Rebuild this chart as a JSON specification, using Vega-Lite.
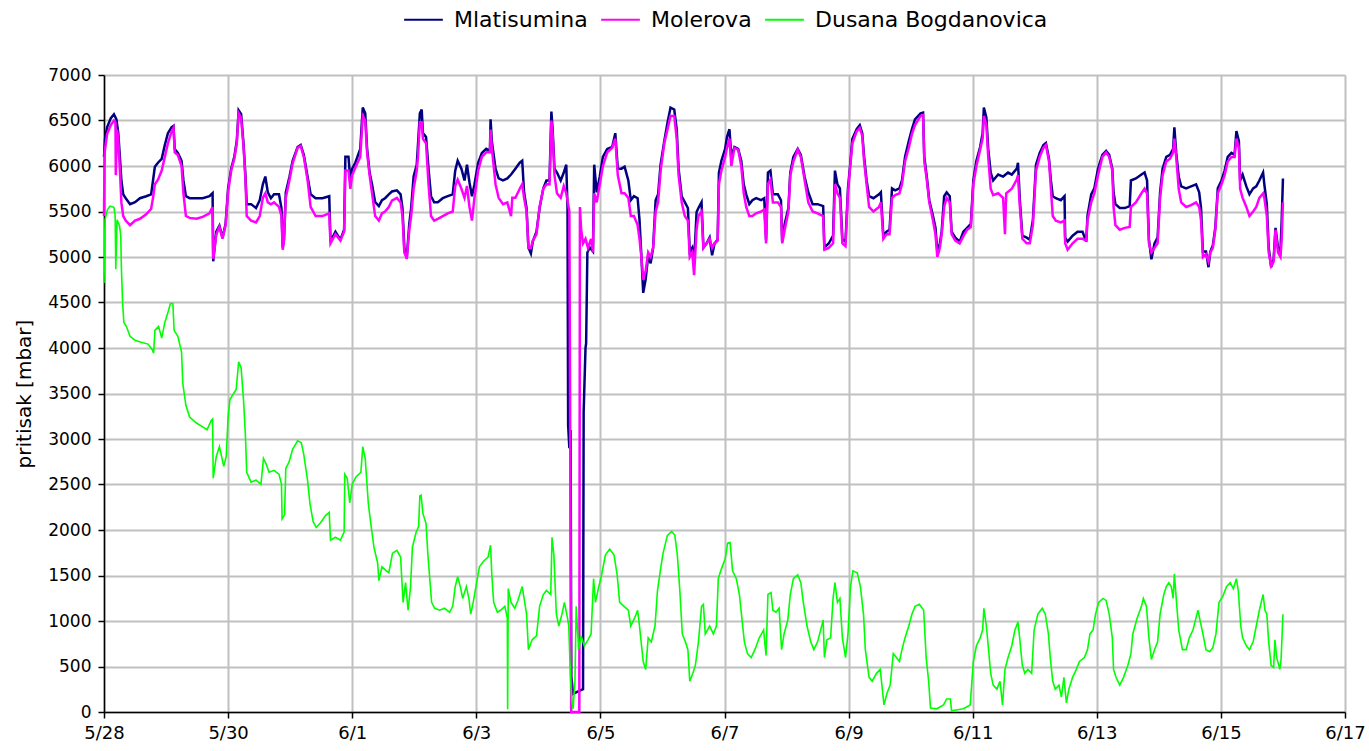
{
  "$schema": "https://vega.github.io/schema/vega-lite/v6.json",
  "autosize": {"type": "none"},
  "width": 1241,
  "height": 637,
  "padding": {"left": 104, "top": 75, "right": 24, "bottom": 39},
  "background": "white",
  "config": {
    "view": {"stroke": null},
    "font": "DejaVu Sans",
    "axis": {
      "gridColor": "#c0c0c0",
      "gridWidth": 2,
      "domainColor": "black",
      "domainWidth": 1.5,
      "tickColor": "black",
      "tickWidth": 1.5,
      "tickSize": 6,
      "labelColor": "black",
      "labelFontSize": 17,
      "titleColor": "black",
      "titleFontSize": 20,
      "titleFontWeight": "normal"
    }
  },
  "encoding": {
    "x": {
      "field": "d",
      "type": "quantitative",
      "scale": {"domain": [0, 20], "nice": false, "zero": false},
      "axis": {
        "title": null,
        "values": [0, 2, 4, 6, 8, 10, 12, 14, 16, 18, 20],
        "labelExpr": "timeFormat(datetime(2008, 4, 28 + datum.value), '%-m/%-d')",
        "labelFlush": false,
        "labelOverlap": false,
        "labelFontSize": 18,
        "labelPadding": 6
      }
    },
    "y": {
      "field": "v",
      "type": "quantitative",
      "scale": {"domain": [0, 7000], "nice": false},
      "axis": {
        "title": "pritisak [mbar]",
        "format": "d",
        "values": [0, 500, 1000, 1500, 2000, 2500, 3000, 3500, 4000, 4500, 5000, 5500, 6000, 6500, 7000],
        "labelPadding": 7,
        "titlePadding": 13
      }
    }
  },
  "layer": [
    {
      "data": {"values": [
        {"d":0,"v":6100},{"d":0.016,"v":6296},{"d":0.05,"v":6426},{"d":0.11,"v":6526},{"d":0.16,"v":6569},{"d":0.2,"v":6513},{"d":0.23,"v":6361},{"d":0.26,"v":6058},{"d":0.28,"v":5841},{"d":0.31,"v":5689},{"d":0.35,"v":5646},{"d":0.42,"v":5581},{"d":0.5,"v":5603},{"d":0.58,"v":5646},{"d":0.68,"v":5668},{"d":0.76,"v":5689},{"d":0.79,"v":5841},{"d":0.82,"v":5993},{"d":0.87,"v":6036},{"d":0.93,"v":6079},{"d":0.98,"v":6231},{"d":1.03,"v":6361},{"d":1.09,"v":6426},{"d":1.12,"v":6439},{"d":1.14,"v":6188},{"d":1.19,"v":6144},{"d":1.25,"v":6058},{"d":1.28,"v":5841},{"d":1.32,"v":5668},{"d":1.38,"v":5646},{"d":1.49,"v":5646},{"d":1.59,"v":5646},{"d":1.7,"v":5668},{"d":1.75,"v":5702},{"d":1.76,"v":4953},{"d":1.81,"v":5278},{"d":1.86,"v":5343},{"d":1.91,"v":5213},{"d":1.96,"v":5364},{"d":2,"v":5754},{"d":2.05,"v":5971},{"d":2.1,"v":6101},{"d":2.14,"v":6274},{"d":2.17,"v":6612},{"d":2.21,"v":6569},{"d":2.25,"v":6231},{"d":2.28,"v":5884},{"d":2.3,"v":5581},{"d":2.37,"v":5581},{"d":2.45,"v":5538},{"d":2.51,"v":5624},{"d":2.56,"v":5798},{"d":2.6,"v":5884},{"d":2.64,"v":5711},{"d":2.69,"v":5646},{"d":2.74,"v":5689},{"d":2.82,"v":5689},{"d":2.86,"v":5538},{"d":2.88,"v":5104},{"d":2.9,"v":5191},{"d":2.93,"v":5711},{"d":2.99,"v":5884},{"d":3.04,"v":6058},{"d":3.12,"v":6209},{"d":3.17,"v":6231},{"d":3.22,"v":6123},{"d":3.28,"v":5884},{"d":3.33,"v":5689},{"d":3.41,"v":5646},{"d":3.52,"v":5646},{"d":3.63,"v":5668},{"d":3.65,"v":5169},{"d":3.73,"v":5278},{"d":3.81,"v":5191},{"d":3.87,"v":5299},{"d":3.89,"v":6101},{"d":3.94,"v":6101},{"d":3.97,"v":5841},{"d":4,"v":5971},{"d":4.05,"v":6036},{"d":4.13,"v":6188},{"d":4.17,"v":6642},{"d":4.21,"v":6578},{"d":4.24,"v":6188},{"d":4.28,"v":5928},{"d":4.32,"v":5798},{"d":4.37,"v":5603},{"d":4.43,"v":5559},{"d":4.48,"v":5624},{"d":4.53,"v":5646},{"d":4.59,"v":5689},{"d":4.64,"v":5720},{"d":4.72,"v":5733},{"d":4.78,"v":5689},{"d":4.81,"v":5538},{"d":4.84,"v":5104},{"d":4.88,"v":4996},{"d":4.92,"v":5364},{"d":4.95,"v":5538},{"d":4.99,"v":5884},{"d":5.04,"v":6014},{"d":5.06,"v":6231},{"d":5.09,"v":6578},{"d":5.12,"v":6621},{"d":5.14,"v":6361},{"d":5.19,"v":6318},{"d":5.23,"v":5971},{"d":5.27,"v":5668},{"d":5.32,"v":5603},{"d":5.38,"v":5603},{"d":5.46,"v":5646},{"d":5.54,"v":5668},{"d":5.62,"v":5689},{"d":5.66,"v":5949},{"d":5.7,"v":6058},{"d":5.76,"v":5971},{"d":5.81,"v":5841},{"d":5.85,"v":6014},{"d":5.89,"v":5819},{"d":5.93,"v":5668},{"d":5.97,"v":5798},{"d":6.03,"v":6036},{"d":6.09,"v":6144},{"d":6.16,"v":6188},{"d":6.22,"v":6166},{"d":6.23,"v":6513},{"d":6.25,"v":6274},{"d":6.31,"v":5971},{"d":6.36,"v":5863},{"d":6.43,"v":5841},{"d":6.5,"v":5863},{"d":6.56,"v":5906},{"d":6.63,"v":5971},{"d":6.7,"v":6036},{"d":6.74,"v":6058},{"d":6.77,"v":5711},{"d":6.81,"v":5538},{"d":6.84,"v":5104},{"d":6.88,"v":5039},{"d":6.91,"v":5169},{"d":6.97,"v":5278},{"d":7.02,"v":5538},{"d":7.08,"v":5754},{"d":7.13,"v":5841},{"d":7.18,"v":5841},{"d":7.21,"v":6599},{"d":7.23,"v":6404},{"d":7.26,"v":5971},{"d":7.3,"v":5928},{"d":7.36,"v":5841},{"d":7.41,"v":5928},{"d":7.45,"v":6014},{"d":7.47,"v":5538},{"d":7.48,"v":3150},{"d":7.5,"v":2900},{"d":7.52,"v":3100},{"d":7.53,"v":400},{"d":7.56,"v":200},{"d":7.65,"v":230},{"d":7.72,"v":250},{"d":7.73,"v":3300},{"d":7.76,"v":4000},{"d":7.77,"v":4050},{"d":7.79,"v":5050},{"d":7.83,"v":5104},{"d":7.88,"v":5061},{"d":7.9,"v":6014},{"d":7.94,"v":5711},{"d":7.99,"v":5884},{"d":8.04,"v":6101},{"d":8.11,"v":6188},{"d":8.19,"v":6209},{"d":8.24,"v":6361},{"d":8.28,"v":5971},{"d":8.34,"v":5971},{"d":8.39,"v":5993},{"d":8.45,"v":5841},{"d":8.49,"v":5624},{"d":8.54,"v":5668},{"d":8.6,"v":5646},{"d":8.63,"v":5408},{"d":8.66,"v":5018},{"d":8.69,"v":4606},{"d":8.73,"v":4758},{"d":8.77,"v":5018},{"d":8.81,"v":4931},{"d":8.85,"v":5104},{"d":8.89,"v":5624},{"d":8.93,"v":5689},{"d":8.97,"v":6014},{"d":9.03,"v":6274},{"d":9.08,"v":6469},{"d":9.13,"v":6642},{"d":9.19,"v":6621},{"d":9.23,"v":6404},{"d":9.26,"v":5971},{"d":9.31,"v":5668},{"d":9.36,"v":5603},{"d":9.41,"v":5538},{"d":9.44,"v":5061},{"d":9.48,"v":5104},{"d":9.51,"v":4931},{"d":9.55,"v":5494},{"d":9.58,"v":5538},{"d":9.63,"v":5603},{"d":9.66,"v":5104},{"d":9.71,"v":5148},{"d":9.76,"v":5213},{"d":9.8,"v":5018},{"d":9.84,"v":5148},{"d":9.89,"v":5191},{"d":9.91,"v":5928},{"d":9.95,"v":6058},{"d":10.01,"v":6188},{"d":10.04,"v":6318},{"d":10.08,"v":6404},{"d":10.11,"v":6101},{"d":10.16,"v":6209},{"d":10.22,"v":6188},{"d":10.27,"v":6058},{"d":10.31,"v":5798},{"d":10.35,"v":5689},{"d":10.4,"v":5581},{"d":10.45,"v":5624},{"d":10.51,"v":5646},{"d":10.59,"v":5624},{"d":10.64,"v":5646},{"d":10.67,"v":5191},{"d":10.7,"v":5928},{"d":10.74,"v":5949},{"d":10.78,"v":5689},{"d":10.86,"v":5689},{"d":10.91,"v":5624},{"d":10.93,"v":5169},{"d":10.97,"v":5364},{"d":11.03,"v":5538},{"d":11.06,"v":5928},{"d":11.11,"v":6101},{"d":11.18,"v":6188},{"d":11.23,"v":6123},{"d":11.29,"v":5884},{"d":11.35,"v":5711},{"d":11.42,"v":5581},{"d":11.5,"v":5581},{"d":11.59,"v":5559},{"d":11.61,"v":5104},{"d":11.68,"v":5148},{"d":11.75,"v":5234},{"d":11.78,"v":5949},{"d":11.82,"v":5798},{"d":11.86,"v":5754},{"d":11.9,"v":5191},{"d":11.95,"v":5169},{"d":11.99,"v":5754},{"d":12.02,"v":5971},{"d":12.06,"v":6296},{"d":12.13,"v":6404},{"d":12.18,"v":6448},{"d":12.22,"v":6361},{"d":12.25,"v":6101},{"d":12.29,"v":5841},{"d":12.33,"v":5668},{"d":12.4,"v":5646},{"d":12.49,"v":5689},{"d":12.52,"v":5711},{"d":12.56,"v":5234},{"d":12.61,"v":5278},{"d":12.66,"v":5299},{"d":12.7,"v":5754},{"d":12.75,"v":5733},{"d":12.82,"v":5754},{"d":12.86,"v":5841},{"d":12.91,"v":6101},{"d":12.97,"v":6274},{"d":13.02,"v":6404},{"d":13.07,"v":6513},{"d":13.16,"v":6578},{"d":13.2,"v":6586},{"d":13.22,"v":6101},{"d":13.26,"v":5884},{"d":13.3,"v":5624},{"d":13.36,"v":5451},{"d":13.4,"v":5321},{"d":13.43,"v":5061},{"d":13.47,"v":5148},{"d":13.5,"v":5278},{"d":13.54,"v":5668},{"d":13.58,"v":5711},{"d":13.63,"v":5668},{"d":13.66,"v":5278},{"d":13.72,"v":5213},{"d":13.79,"v":5169},{"d":13.85,"v":5278},{"d":13.91,"v":5321},{"d":13.97,"v":5364},{"d":14.01,"v":5841},{"d":14.06,"v":6058},{"d":14.12,"v":6209},{"d":14.16,"v":6361},{"d":14.18,"v":6642},{"d":14.22,"v":6534},{"d":14.25,"v":6188},{"d":14.29,"v":5928},{"d":14.33,"v":5841},{"d":14.41,"v":5906},{"d":14.49,"v":5884},{"d":14.57,"v":5928},{"d":14.63,"v":5906},{"d":14.71,"v":5971},{"d":14.73,"v":6036},{"d":14.76,"v":5624},{"d":14.8,"v":5234},{"d":14.87,"v":5213},{"d":14.92,"v":5191},{"d":14.97,"v":5408},{"d":15.02,"v":6014},{"d":15.08,"v":6144},{"d":15.14,"v":6231},{"d":15.18,"v":6253},{"d":15.23,"v":6079},{"d":15.26,"v":5841},{"d":15.29,"v":5668},{"d":15.34,"v":5646},{"d":15.42,"v":5624},{"d":15.48,"v":5668},{"d":15.49,"v":5213},{"d":15.53,"v":5169},{"d":15.61,"v":5234},{"d":15.69,"v":5278},{"d":15.77,"v":5278},{"d":15.83,"v":5169},{"d":15.85,"v":5451},{"d":15.91,"v":5689},{"d":15.96,"v":5754},{"d":16.02,"v":5971},{"d":16.09,"v":6123},{"d":16.15,"v":6166},{"d":16.2,"v":6123},{"d":16.25,"v":5971},{"d":16.27,"v":5711},{"d":16.3,"v":5581},{"d":16.37,"v":5538},{"d":16.45,"v":5538},{"d":16.53,"v":5559},{"d":16.55,"v":5841},{"d":16.63,"v":5863},{"d":16.72,"v":5906},{"d":16.77,"v":5928},{"d":16.81,"v":5841},{"d":16.84,"v":5191},{"d":16.88,"v":4974},{"d":16.93,"v":5148},{"d":16.98,"v":5213},{"d":17.02,"v":5711},{"d":17.06,"v":5971},{"d":17.12,"v":6101},{"d":17.18,"v":6123},{"d":17.23,"v":6188},{"d":17.25,"v":6426},{"d":17.28,"v":6144},{"d":17.32,"v":5884},{"d":17.36,"v":5776},{"d":17.44,"v":5754},{"d":17.52,"v":5776},{"d":17.6,"v":5798},{"d":17.65,"v":5711},{"d":17.68,"v":5538},{"d":17.71,"v":5061},{"d":17.76,"v":5061},{"d":17.8,"v":4888},{"d":17.83,"v":5061},{"d":17.87,"v":5126},{"d":17.91,"v":5321},{"d":17.95,"v":5754},{"d":18.01,"v":5841},{"d":18.06,"v":5949},{"d":18.11,"v":6101},{"d":18.17,"v":6144},{"d":18.22,"v":6123},{"d":18.25,"v":6383},{"d":18.29,"v":6274},{"d":18.31,"v":5841},{"d":18.35,"v":5906},{"d":18.41,"v":5776},{"d":18.46,"v":5689},{"d":18.52,"v":5754},{"d":18.57,"v":5776},{"d":18.62,"v":5841},{"d":18.68,"v":5928},{"d":18.7,"v":5798},{"d":18.74,"v":5581},{"d":18.77,"v":5104},{"d":18.81,"v":4888},{"d":18.85,"v":4974},{"d":18.88,"v":5321},{"d":18.92,"v":5104},{"d":18.96,"v":5061},{"d":18.98,"v":5408},{"d":19,"v":5863}
      ]},
      "mark": {"type": "line", "strokeWidth": 2.5},
      "encoding": {
        "color": {
          "datum": "Mlatisumina",
          "scale": {"domain": ["Mlatisumina", "Molerova", "Dusana Bogdanovica"], "range": ["#000080", "#ff00ff", "#00ff00"]},
          "legend": {
            "title": null,
            "orient": "none",
            "direction": "horizontal",
            "legendX": 299,
            "legendY": -76,
            "padding": 0,
            "symbolType": "stroke",
            "symbolSize": 1500,
            "symbolStrokeWidth": 2,
            "labelFontSize": 22,
            "labelLimit": 0,
            "labelColor": "black",
            "labelOffset": 10,
            "columnPadding": 9
          }
        }
      }
    },
    {
      "data": {"values": [
        {"d":0,"v":5450},{"d":0.01,"v":6150},{"d":0.05,"v":6350},{"d":0.11,"v":6450},{"d":0.16,"v":6500},{"d":0.185,"v":6480},{"d":0.19,"v":5900},{"d":0.21,"v":6400},{"d":0.23,"v":6300},{"d":0.26,"v":5900},{"d":0.28,"v":5600},{"d":0.31,"v":5450},{"d":0.35,"v":5400},{"d":0.42,"v":5350},{"d":0.5,"v":5400},{"d":0.58,"v":5420},{"d":0.68,"v":5470},{"d":0.76,"v":5530},{"d":0.79,"v":5650},{"d":0.82,"v":5800},{"d":0.87,"v":5850},{"d":0.93,"v":5950},{"d":0.98,"v":6100},{"d":1.03,"v":6250},{"d":1.09,"v":6380},{"d":1.12,"v":6420},{"d":1.14,"v":6150},{"d":1.19,"v":6120},{"d":1.25,"v":6000},{"d":1.28,"v":5700},{"d":1.32,"v":5450},{"d":1.38,"v":5430},{"d":1.49,"v":5420},{"d":1.59,"v":5440},{"d":1.7,"v":5480},{"d":1.75,"v":5550},{"d":1.76,"v":4980},{"d":1.81,"v":5250},{"d":1.86,"v":5330},{"d":1.91,"v":5200},{"d":1.96,"v":5350},{"d":2,"v":5720},{"d":2.05,"v":5950},{"d":2.1,"v":6080},{"d":2.14,"v":6250},{"d":2.17,"v":6580},{"d":2.21,"v":6530},{"d":2.25,"v":6200},{"d":2.28,"v":5850},{"d":2.3,"v":5450},{"d":2.37,"v":5400},{"d":2.45,"v":5380},{"d":2.51,"v":5450},{"d":2.56,"v":5650},{"d":2.6,"v":5700},{"d":2.64,"v":5600},{"d":2.69,"v":5580},{"d":2.74,"v":5600},{"d":2.82,"v":5550},{"d":2.86,"v":5450},{"d":2.88,"v":5080},{"d":2.9,"v":5180},{"d":2.93,"v":5650},{"d":2.99,"v":5850},{"d":3.04,"v":6030},{"d":3.12,"v":6200},{"d":3.17,"v":6220},{"d":3.22,"v":6100},{"d":3.28,"v":5850},{"d":3.33,"v":5550},{"d":3.41,"v":5450},{"d":3.52,"v":5450},{"d":3.63,"v":5480},{"d":3.65,"v":5150},{"d":3.73,"v":5250},{"d":3.81,"v":5180},{"d":3.87,"v":5280},{"d":3.89,"v":5950},{"d":3.94,"v":5950},{"d":3.97,"v":5750},{"d":4,"v":5900},{"d":4.05,"v":5980},{"d":4.13,"v":6100},{"d":4.17,"v":6550},{"d":4.21,"v":6500},{"d":4.24,"v":6150},{"d":4.28,"v":5900},{"d":4.32,"v":5700},{"d":4.37,"v":5450},{"d":4.43,"v":5400},{"d":4.48,"v":5480},{"d":4.53,"v":5500},{"d":4.59,"v":5550},{"d":4.64,"v":5620},{"d":4.72,"v":5650},{"d":4.78,"v":5600},{"d":4.81,"v":5450},{"d":4.84,"v":5050},{"d":4.88,"v":4980},{"d":4.92,"v":5300},{"d":4.95,"v":5450},{"d":4.99,"v":5750},{"d":5.04,"v":5950},{"d":5.06,"v":6100},{"d":5.09,"v":6480},{"d":5.12,"v":6480},{"d":5.14,"v":6300},{"d":5.19,"v":6250},{"d":5.23,"v":5800},{"d":5.27,"v":5450},{"d":5.32,"v":5400},{"d":5.38,"v":5420},{"d":5.46,"v":5450},{"d":5.54,"v":5480},{"d":5.62,"v":5500},{"d":5.66,"v":5780},{"d":5.7,"v":5850},{"d":5.76,"v":5750},{"d":5.81,"v":5650},{"d":5.85,"v":5780},{"d":5.89,"v":5550},{"d":5.93,"v":5400},{"d":5.97,"v":5650},{"d":6.03,"v":5950},{"d":6.09,"v":6100},{"d":6.16,"v":6150},{"d":6.22,"v":6150},{"d":6.23,"v":6400},{"d":6.25,"v":6200},{"d":6.31,"v":5800},{"d":6.36,"v":5650},{"d":6.43,"v":5580},{"d":6.5,"v":5600},{"d":6.56,"v":5450},{"d":6.58,"v":5650},{"d":6.63,"v":5650},{"d":6.7,"v":5750},{"d":6.74,"v":5800},{"d":6.77,"v":5650},{"d":6.81,"v":5500},{"d":6.84,"v":5100},{"d":6.88,"v":5100},{"d":6.91,"v":5180},{"d":6.97,"v":5250},{"d":7.02,"v":5550},{"d":7.08,"v":5750},{"d":7.13,"v":5800},{"d":7.18,"v":5800},{"d":7.21,"v":6500},{"d":7.23,"v":6350},{"d":7.26,"v":5900},{"d":7.3,"v":5700},{"d":7.36,"v":5650},{"d":7.41,"v":5780},{"d":7.45,"v":5700},{"d":7.5,"v":5500},{"d":7.53,"v":0},{"d":7.66,"v":0},{"d":7.67,"v":5550},{"d":7.69,"v":5300},{"d":7.72,"v":5150},{"d":7.76,"v":5200},{"d":7.8,"v":5100},{"d":7.85,"v":5200},{"d":7.88,"v":5050},{"d":7.9,"v":5700},{"d":7.94,"v":5600},{"d":7.99,"v":5800},{"d":8.04,"v":6000},{"d":8.11,"v":6150},{"d":8.19,"v":6200},{"d":8.24,"v":6300},{"d":8.28,"v":5900},{"d":8.34,"v":5700},{"d":8.39,"v":5700},{"d":8.45,"v":5650},{"d":8.49,"v":5450},{"d":8.54,"v":5450},{"d":8.6,"v":5350},{"d":8.63,"v":5200},{"d":8.66,"v":5000},{"d":8.69,"v":4750},{"d":8.73,"v":4850},{"d":8.77,"v":5050},{"d":8.81,"v":5000},{"d":8.85,"v":5100},{"d":8.89,"v":5500},{"d":8.93,"v":5600},{"d":8.97,"v":5950},{"d":9.03,"v":6250},{"d":9.08,"v":6400},{"d":9.13,"v":6550},{"d":9.19,"v":6550},{"d":9.23,"v":6300},{"d":9.26,"v":5900},{"d":9.31,"v":5600},{"d":9.36,"v":5450},{"d":9.41,"v":5400},{"d":9.44,"v":5000},{"d":9.48,"v":5050},{"d":9.51,"v":4800},{"d":9.55,"v":5300},{"d":9.58,"v":5450},{"d":9.63,"v":5500},{"d":9.66,"v":5100},{"d":9.71,"v":5150},{"d":9.76,"v":5200},{"d":9.8,"v":5100},{"d":9.84,"v":5150},{"d":9.89,"v":5180},{"d":9.91,"v":5800},{"d":9.95,"v":5950},{"d":10.01,"v":6100},{"d":10.04,"v":6200},{"d":10.08,"v":6300},{"d":10.11,"v":6000},{"d":10.16,"v":6200},{"d":10.22,"v":6180},{"d":10.27,"v":6000},{"d":10.31,"v":5700},{"d":10.35,"v":5550},{"d":10.4,"v":5450},{"d":10.45,"v":5450},{"d":10.51,"v":5480},{"d":10.59,"v":5500},{"d":10.64,"v":5520},{"d":10.67,"v":5150},{"d":10.7,"v":5800},{"d":10.74,"v":5850},{"d":10.78,"v":5600},{"d":10.86,"v":5600},{"d":10.91,"v":5550},{"d":10.93,"v":5150},{"d":10.97,"v":5300},{"d":11.03,"v":5500},{"d":11.06,"v":5900},{"d":11.11,"v":6050},{"d":11.18,"v":6180},{"d":11.23,"v":6100},{"d":11.29,"v":5850},{"d":11.35,"v":5600},{"d":11.42,"v":5500},{"d":11.5,"v":5480},{"d":11.59,"v":5450},{"d":11.61,"v":5080},{"d":11.68,"v":5100},{"d":11.75,"v":5150},{"d":11.78,"v":5800},{"d":11.82,"v":5700},{"d":11.86,"v":5650},{"d":11.9,"v":5150},{"d":11.95,"v":5120},{"d":11.99,"v":5700},{"d":12.02,"v":5950},{"d":12.06,"v":6250},{"d":12.13,"v":6380},{"d":12.18,"v":6420},{"d":12.22,"v":6330},{"d":12.25,"v":6050},{"d":12.29,"v":5800},{"d":12.33,"v":5550},{"d":12.4,"v":5500},{"d":12.49,"v":5550},{"d":12.52,"v":5600},{"d":12.56,"v":5200},{"d":12.61,"v":5250},{"d":12.66,"v":5250},{"d":12.7,"v":5650},{"d":12.75,"v":5680},{"d":12.82,"v":5700},{"d":12.86,"v":5800},{"d":12.91,"v":6050},{"d":12.97,"v":6200},{"d":13.02,"v":6350},{"d":13.07,"v":6450},{"d":13.16,"v":6550},{"d":13.2,"v":6560},{"d":13.22,"v":6050},{"d":13.26,"v":5850},{"d":13.3,"v":5600},{"d":13.36,"v":5400},{"d":13.4,"v":5250},{"d":13.43,"v":5000},{"d":13.47,"v":5100},{"d":13.5,"v":5250},{"d":13.54,"v":5550},{"d":13.58,"v":5650},{"d":13.63,"v":5600},{"d":13.66,"v":5250},{"d":13.72,"v":5180},{"d":13.79,"v":5150},{"d":13.85,"v":5230},{"d":13.91,"v":5300},{"d":13.97,"v":5330},{"d":14.01,"v":5800},{"d":14.06,"v":6000},{"d":14.12,"v":6180},{"d":14.16,"v":6300},{"d":14.18,"v":6550},{"d":14.22,"v":6450},{"d":14.25,"v":6100},{"d":14.29,"v":5750},{"d":14.33,"v":5680},{"d":14.41,"v":5700},{"d":14.49,"v":5650},{"d":14.52,"v":5250},{"d":14.54,"v":5700},{"d":14.63,"v":5750},{"d":14.71,"v":5850},{"d":14.73,"v":5900},{"d":14.76,"v":5550},{"d":14.8,"v":5200},{"d":14.87,"v":5150},{"d":14.92,"v":5150},{"d":14.97,"v":5350},{"d":15.02,"v":5950},{"d":15.08,"v":6100},{"d":15.14,"v":6200},{"d":15.18,"v":6230},{"d":15.23,"v":6050},{"d":15.26,"v":5750},{"d":15.29,"v":5450},{"d":15.34,"v":5400},{"d":15.42,"v":5380},{"d":15.48,"v":5400},{"d":15.49,"v":5150},{"d":15.53,"v":5080},{"d":15.61,"v":5150},{"d":15.69,"v":5200},{"d":15.77,"v":5200},{"d":15.83,"v":5180},{"d":15.85,"v":5400},{"d":15.91,"v":5600},{"d":15.96,"v":5700},{"d":16.02,"v":5900},{"d":16.09,"v":6100},{"d":16.15,"v":6150},{"d":16.2,"v":6100},{"d":16.25,"v":5950},{"d":16.27,"v":5550},{"d":16.3,"v":5350},{"d":16.37,"v":5300},{"d":16.45,"v":5320},{"d":16.53,"v":5330},{"d":16.55,"v":5550},{"d":16.63,"v":5600},{"d":16.72,"v":5700},{"d":16.77,"v":5750},{"d":16.81,"v":5700},{"d":16.84,"v":5150},{"d":16.88,"v":5050},{"d":16.93,"v":5100},{"d":16.98,"v":5150},{"d":17.02,"v":5650},{"d":17.06,"v":5900},{"d":17.12,"v":6050},{"d":17.18,"v":6080},{"d":17.23,"v":6150},{"d":17.25,"v":6300},{"d":17.28,"v":6100},{"d":17.32,"v":5750},{"d":17.36,"v":5600},{"d":17.44,"v":5550},{"d":17.52,"v":5570},{"d":17.6,"v":5600},{"d":17.65,"v":5550},{"d":17.68,"v":5400},{"d":17.71,"v":5000},{"d":17.76,"v":5030},{"d":17.8,"v":4950},{"d":17.83,"v":5050},{"d":17.87,"v":5100},{"d":17.91,"v":5300},{"d":17.95,"v":5700},{"d":18.01,"v":5800},{"d":18.06,"v":5900},{"d":18.11,"v":6050},{"d":18.17,"v":6100},{"d":18.22,"v":6100},{"d":18.25,"v":6300},{"d":18.29,"v":6200},{"d":18.31,"v":5750},{"d":18.35,"v":5650},{"d":18.41,"v":5550},{"d":18.46,"v":5450},{"d":18.52,"v":5500},{"d":18.57,"v":5550},{"d":18.62,"v":5650},{"d":18.68,"v":5700},{"d":18.7,"v":5650},{"d":18.74,"v":5450},{"d":18.77,"v":5050},{"d":18.81,"v":4900},{"d":18.85,"v":4950},{"d":18.88,"v":5300},{"d":18.92,"v":5050},{"d":18.96,"v":5000},{"d":18.98,"v":5200},{"d":19,"v":5600}
      ]},
      "mark": {"type": "line", "strokeWidth": 2.5},
      "encoding": {"color": {"datum": "Molerova"}}
    },
    {
      "data": {"values": [
        {"d":0,"v":4714},{"d":0.016,"v":5408},{"d":0.053,"v":5516},{"d":0.096,"v":5559},{"d":0.16,"v":5546},{"d":0.18,"v":5451},{"d":0.19,"v":4866},{"d":0.21,"v":5408},{"d":0.25,"v":5343},{"d":0.27,"v":5234},{"d":0.28,"v":4888},{"d":0.3,"v":4498},{"d":0.32,"v":4281},{"d":0.36,"v":4238},{"d":0.42,"v":4129},{"d":0.5,"v":4086},{"d":0.6,"v":4064},{"d":0.71,"v":4043},{"d":0.78,"v":3978},{"d":0.8,"v":3943},{"d":0.82,"v":4194},{"d":0.88,"v":4238},{"d":0.93,"v":4108},{"d":0.98,"v":4281},{"d":1.03,"v":4389},{"d":1.07,"v":4489},{"d":1.11,"v":4489},{"d":1.13,"v":4194},{"d":1.19,"v":4129},{"d":1.25,"v":3956},{"d":1.27,"v":3609},{"d":1.32,"v":3371},{"d":1.38,"v":3241},{"d":1.49,"v":3176},{"d":1.59,"v":3133},{"d":1.66,"v":3102},{"d":1.73,"v":3206},{"d":1.75,"v":3219},{"d":1.76,"v":2569},{"d":1.81,"v":2808},{"d":1.86,"v":2916},{"d":1.93,"v":2699},{"d":1.97,"v":2808},{"d":2,"v":3241},{"d":2.03,"v":3436},{"d":2.13,"v":3544},{"d":2.17,"v":3848},{"d":2.21,"v":3783},{"d":2.25,"v":3414},{"d":2.28,"v":3024},{"d":2.3,"v":2634},{"d":2.37,"v":2526},{"d":2.45,"v":2548},{"d":2.53,"v":2504},{"d":2.57,"v":2786},{"d":2.61,"v":2730},{"d":2.66,"v":2634},{"d":2.74,"v":2656},{"d":2.82,"v":2613},{"d":2.86,"v":2504},{"d":2.87,"v":2123},{"d":2.91,"v":2167},{"d":2.93,"v":2678},{"d":2.98,"v":2743},{"d":3.04,"v":2886},{"d":3.12,"v":2981},{"d":3.18,"v":2959},{"d":3.22,"v":2829},{"d":3.28,"v":2548},{"d":3.32,"v":2288},{"d":3.37,"v":2093},{"d":3.42,"v":2028},{"d":3.49,"v":2080},{"d":3.57,"v":2158},{"d":3.63,"v":2193},{"d":3.65,"v":1889},{"d":3.73,"v":1920},{"d":3.81,"v":1889},{"d":3.87,"v":1976},{"d":3.88,"v":2613},{"d":3.92,"v":2569},{"d":3.96,"v":2297},{"d":4,"v":2504},{"d":4.06,"v":2582},{"d":4.14,"v":2634},{"d":4.17,"v":2916},{"d":4.21,"v":2786},{"d":4.26,"v":2288},{"d":4.3,"v":2071},{"d":4.35,"v":1811},{"d":4.41,"v":1638},{"d":4.43,"v":1443},{"d":4.48,"v":1595},{"d":4.55,"v":1551},{"d":4.59,"v":1530},{"d":4.65,"v":1746},{"d":4.72,"v":1777},{"d":4.78,"v":1703},{"d":4.82,"v":1205},{"d":4.86,"v":1421},{"d":4.9,"v":1118},{"d":4.94,"v":1369},{"d":4.97,"v":1811},{"d":5.03,"v":1976},{"d":5.07,"v":2037},{"d":5.09,"v":2375},{"d":5.11,"v":2383},{"d":5.14,"v":2180},{"d":5.19,"v":2071},{"d":5.22,"v":1725},{"d":5.25,"v":1465},{"d":5.28,"v":1205},{"d":5.33,"v":1140},{"d":5.41,"v":1118},{"d":5.49,"v":1140},{"d":5.57,"v":1096},{"d":5.62,"v":1161},{"d":5.66,"v":1378},{"d":5.7,"v":1486},{"d":5.75,"v":1356},{"d":5.78,"v":1248},{"d":5.84,"v":1378},{"d":5.88,"v":1248},{"d":5.91,"v":1075},{"d":5.95,"v":1205},{"d":6,"v":1400},{"d":6.05,"v":1595},{"d":6.12,"v":1660},{"d":6.19,"v":1703},{"d":6.23,"v":1833},{"d":6.25,"v":1508},{"d":6.28,"v":1205},{"d":6.34,"v":1096},{"d":6.39,"v":1118},{"d":6.46,"v":1161},{"d":6.5,"v":1031},{"d":6.505,"v":30},{"d":6.515,"v":1356},{"d":6.56,"v":1205},{"d":6.62,"v":1140},{"d":6.67,"v":1226},{"d":6.74,"v":1378},{"d":6.77,"v":1248},{"d":6.81,"v":1075},{"d":6.84,"v":685},{"d":6.9,"v":793},{"d":6.97,"v":836},{"d":7.02,"v":1161},{"d":7.08,"v":1291},{"d":7.13,"v":1335},{"d":7.2,"v":1291},{"d":7.22,"v":1920},{"d":7.25,"v":1725},{"d":7.29,"v":1075},{"d":7.33,"v":945},{"d":7.38,"v":1075},{"d":7.42,"v":1205},{"d":7.47,"v":1031},{"d":7.49,"v":945},{"d":7.52,"v":338},{"d":7.54,"v":121},{"d":7.56,"v":35},{"d":7.59,"v":338},{"d":7.61,"v":1161},{"d":7.65,"v":685},{"d":7.69,"v":836},{"d":7.74,"v":728},{"d":7.8,"v":793},{"d":7.85,"v":858},{"d":7.89,"v":1465},{"d":7.92,"v":1205},{"d":7.96,"v":1335},{"d":8.02,"v":1508},{"d":8.08,"v":1725},{"d":8.15,"v":1790},{"d":8.22,"v":1725},{"d":8.27,"v":1508},{"d":8.31,"v":1205},{"d":8.38,"v":1161},{"d":8.45,"v":1118},{"d":8.49,"v":945},{"d":8.55,"v":1031},{"d":8.6,"v":1118},{"d":8.63,"v":945},{"d":8.69,"v":555},{"d":8.73,"v":468},{"d":8.77,"v":815},{"d":8.82,"v":771},{"d":8.88,"v":945},{"d":8.92,"v":1335},{"d":8.97,"v":1573},{"d":9.01,"v":1746},{"d":9.08,"v":1941},{"d":9.15,"v":1985},{"d":9.2,"v":1941},{"d":9.24,"v":1725},{"d":9.28,"v":1335},{"d":9.32,"v":858},{"d":9.37,"v":771},{"d":9.41,"v":685},{"d":9.44,"v":338},{"d":9.49,"v":425},{"d":9.53,"v":511},{"d":9.58,"v":771},{"d":9.63,"v":1161},{"d":9.66,"v":1183},{"d":9.69,"v":858},{"d":9.76,"v":945},{"d":9.82,"v":858},{"d":9.87,"v":945},{"d":9.9,"v":1465},{"d":9.95,"v":1573},{"d":10.01,"v":1681},{"d":10.05,"v":1855},{"d":10.09,"v":1863},{"d":10.13,"v":1551},{"d":10.19,"v":1465},{"d":10.24,"v":1291},{"d":10.28,"v":1031},{"d":10.32,"v":771},{"d":10.37,"v":641},{"d":10.43,"v":598},{"d":10.49,"v":685},{"d":10.56,"v":815},{"d":10.63,"v":901},{"d":10.67,"v":620},{"d":10.7,"v":1291},{"d":10.75,"v":1313},{"d":10.78,"v":1118},{"d":10.83,"v":1096},{"d":10.88,"v":1140},{"d":10.92,"v":685},{"d":10.96,"v":858},{"d":11.02,"v":1010},{"d":11.06,"v":1291},{"d":11.11,"v":1465},{"d":11.18,"v":1508},{"d":11.23,"v":1421},{"d":11.27,"v":1205},{"d":11.33,"v":945},{"d":11.39,"v":771},{"d":11.44,"v":685},{"d":11.5,"v":771},{"d":11.55,"v":901},{"d":11.59,"v":1010},{"d":11.61,"v":598},{"d":11.65,"v":793},{"d":11.71,"v":815},{"d":11.75,"v":1248},{"d":11.78,"v":1421},{"d":11.82,"v":1205},{"d":11.86,"v":1248},{"d":11.9,"v":815},{"d":11.95,"v":598},{"d":11.99,"v":858},{"d":12.03,"v":1378},{"d":12.07,"v":1551},{"d":12.14,"v":1530},{"d":12.19,"v":1378},{"d":12.24,"v":1075},{"d":12.27,"v":685},{"d":12.33,"v":381},{"d":12.38,"v":338},{"d":12.45,"v":425},{"d":12.51,"v":468},{"d":12.57,"v":78},{"d":12.62,"v":208},{"d":12.67,"v":295},{"d":12.72,"v":641},{"d":12.77,"v":598},{"d":12.82,"v":555},{"d":12.86,"v":685},{"d":12.91,"v":815},{"d":12.97,"v":945},{"d":13.02,"v":1075},{"d":13.07,"v":1161},{"d":13.14,"v":1183},{"d":13.21,"v":1118},{"d":13.25,"v":598},{"d":13.29,"v":338},{"d":13.32,"v":43},{"d":13.42,"v":35},{"d":13.53,"v":78},{"d":13.58,"v":143},{"d":13.64,"v":143},{"d":13.66,"v":13},{"d":13.85,"v":35},{"d":13.96,"v":78},{"d":14.01,"v":555},{"d":14.06,"v":728},{"d":14.12,"v":815},{"d":14.16,"v":901},{"d":14.18,"v":1140},{"d":14.22,"v":945},{"d":14.25,"v":728},{"d":14.29,"v":425},{"d":14.33,"v":295},{"d":14.39,"v":251},{"d":14.44,"v":338},{"d":14.48,"v":78},{"d":14.52,"v":468},{"d":14.57,"v":598},{"d":14.63,"v":728},{"d":14.68,"v":901},{"d":14.73,"v":988},{"d":14.76,"v":793},{"d":14.8,"v":511},{"d":14.84,"v":425},{"d":14.89,"v":468},{"d":14.95,"v":425},{"d":14.99,"v":901},{"d":15.05,"v":1075},{"d":15.12,"v":1140},{"d":15.17,"v":1075},{"d":15.22,"v":858},{"d":15.25,"v":598},{"d":15.29,"v":338},{"d":15.33,"v":251},{"d":15.39,"v":295},{"d":15.43,"v":165},{"d":15.47,"v":381},{"d":15.51,"v":100},{"d":15.55,"v":251},{"d":15.61,"v":381},{"d":15.67,"v":468},{"d":15.72,"v":555},{"d":15.8,"v":598},{"d":15.85,"v":685},{"d":15.89,"v":858},{"d":15.94,"v":901},{"d":15.98,"v":1075},{"d":16.03,"v":1205},{"d":16.1,"v":1248},{"d":16.15,"v":1226},{"d":16.2,"v":1075},{"d":16.25,"v":815},{"d":16.27,"v":468},{"d":16.31,"v":381},{"d":16.37,"v":295},{"d":16.43,"v":381},{"d":16.5,"v":511},{"d":16.55,"v":641},{"d":16.58,"v":858},{"d":16.65,"v":1031},{"d":16.72,"v":1161},{"d":16.75,"v":1248},{"d":16.8,"v":1161},{"d":16.84,"v":815},{"d":16.88,"v":577},{"d":16.93,"v":685},{"d":16.98,"v":771},{"d":17.02,"v":1075},{"d":17.08,"v":1291},{"d":17.12,"v":1378},{"d":17.16,"v":1421},{"d":17.2,"v":1378},{"d":17.23,"v":1248},{"d":17.25,"v":1517},{"d":17.28,"v":1248},{"d":17.32,"v":901},{"d":17.38,"v":685},{"d":17.44,"v":685},{"d":17.49,"v":815},{"d":17.55,"v":901},{"d":17.59,"v":1010},{"d":17.63,"v":1118},{"d":17.67,"v":988},{"d":17.71,"v":858},{"d":17.76,"v":685},{"d":17.82,"v":663},{"d":17.87,"v":706},{"d":17.92,"v":858},{"d":17.97,"v":1205},{"d":18.03,"v":1270},{"d":18.09,"v":1378},{"d":18.15,"v":1421},{"d":18.2,"v":1356},{"d":18.25,"v":1465},{"d":18.28,"v":1335},{"d":18.32,"v":945},{"d":18.35,"v":815},{"d":18.41,"v":728},{"d":18.46,"v":685},{"d":18.52,"v":771},{"d":18.57,"v":945},{"d":18.62,"v":1118},{"d":18.68,"v":1291},{"d":18.71,"v":1118},{"d":18.74,"v":1075},{"d":18.77,"v":771},{"d":18.81,"v":511},{"d":18.85,"v":490},{"d":18.87,"v":793},{"d":18.9,"v":598},{"d":18.95,"v":468},{"d":18.97,"v":577},{"d":19,"v":1075}
      ]},
      "mark": {"type": "line", "strokeWidth": 1.6},
      "encoding": {"color": {"datum": "Dusana Bogdanovica"}}
    }
  ]
}
